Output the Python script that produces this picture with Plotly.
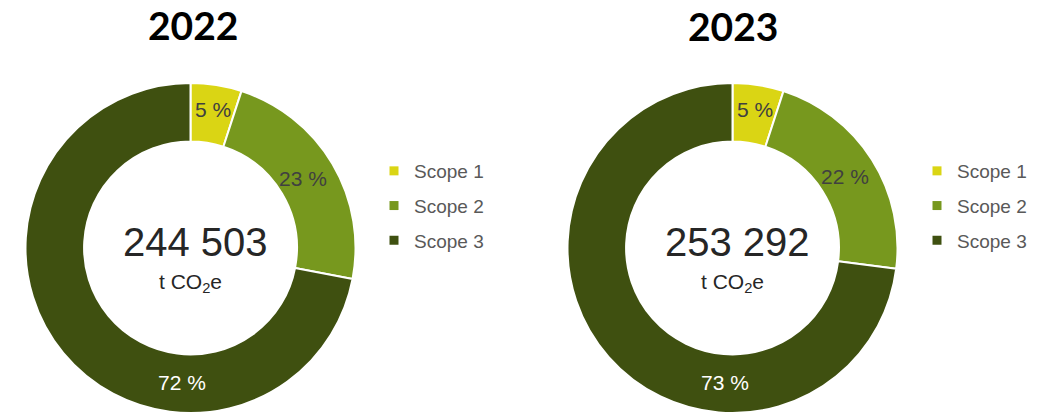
import plotly.graph_objects as go

# ---- data ----
years = ["2022", "2023"]
scopes = ["Scope 1", "Scope 2", "Scope 3"]
share_2022 = [5, 23, 72]
share_2023 = [5, 22, 73]
totals = [244503, 253292]
unit_label = "t CO<sub>2</sub>e"

# ---- style ----
colors = ["#DAD514", "#77981E", "#3F5010"]
W, H = 1053, 416
FONT = "Liberation Sans, Arial, sans-serif"

def px(x):
    return x / W

def py(y):
    return 1 - y / H

# pie geometry (pixels)
centers = [(190.5, 248), (732.5, 248)]
R = 165

fig = go.Figure()
shares = [share_2022, share_2023]
for i, (cx, cy) in enumerate(centers):
    fig.add_trace(go.Pie(
        labels=scopes, values=shares[i], sort=False, direction="clockwise",
        rotation=0, hole=0.645, textinfo="none", hoverinfo="label+percent",
        marker=dict(colors=colors, line=dict(color="white", width=2)),
        domain=dict(x=[px(cx - R), px(cx + R)], y=[py(cy + R), py(cy - R)]),
        showlegend=False,
    ))

# legend entries (one legend per chart)
for i in range(2):
    for s, c in zip(scopes, colors):
        fig.add_trace(go.Scatter(
            x=[None], y=[None], mode="markers", name=s,
            marker=dict(symbol="square", size=9, color=c),
            legend="legend" if i == 0 else "legend2",
            legendgroup=f"{s}-{i}", showlegend=True,
        ))

annotations = []
# titles
title_pos = [(192.5, 25), (733, 26)]
for yr, (tx, ty) in zip(years, title_pos):
    annotations.append(dict(x=px(tx), y=py(ty), xref="paper", yref="paper",
                            text=f"<b>{yr}</b>", showarrow=False,
                            font=dict(family="Lato, sans-serif", size=39, color="#000000"),
                            xanchor="center", yanchor="middle"))
# center totals
for tot, (cx, cy) in zip(totals, centers):
    annotations.append(dict(x=px(cx + 5), y=py(cy - 6), xref="paper", yref="paper",
                            text=f"{tot:,}".replace(",", " "), showarrow=False,
                            font=dict(family=FONT, size=40, color="#262626"),
                            xanchor="center", yanchor="middle"))
    annotations.append(dict(x=px(cx), y=py(cy + 35), xref="paper", yref="paper",
                            text=unit_label, showarrow=False,
                            font=dict(family=FONT, size=21, color="#262626"),
                            xanchor="center", yanchor="middle"))
# slice labels
label_pos = [
    [(213, 110), (303, 178), (182, 382)],
    [(755, 110), (845, 176), (725, 382)],
]
label_colors = ["#404040", "#404040", "#FFFFFF"]
for i in range(2):
    for v, (lx, ly), lc in zip(shares[i], label_pos[i], label_colors):
        annotations.append(dict(x=px(lx), y=py(ly), xref="paper", yref="paper",
                                text=f"{v} %", showarrow=False,
                                font=dict(family=FONT, size=21, color=lc),
                                xanchor="center", yanchor="middle"))

legend_style = dict(font=dict(family=FONT, size=19, color="#595959"),
                    tracegroupgap=7, itemclick=False, itemdoubleclick=False,
                    yanchor="top", xanchor="left", bgcolor="rgba(0,0,0,0)")

fig.update_layout(
    width=W, height=H, margin=dict(l=0, r=0, t=0, b=0),
    paper_bgcolor="white", plot_bgcolor="white",
    xaxis=dict(visible=False), yaxis=dict(visible=False),
    legend=dict(x=px(374), y=py(152), **legend_style),
    legend2=dict(x=px(917), y=py(152), **legend_style),
    annotations=annotations,
)

fig.write_html("out.html", config={"displayModeBar": False},
               post_script="document.body.style.margin='0';document.body.style.overflow='hidden';")
